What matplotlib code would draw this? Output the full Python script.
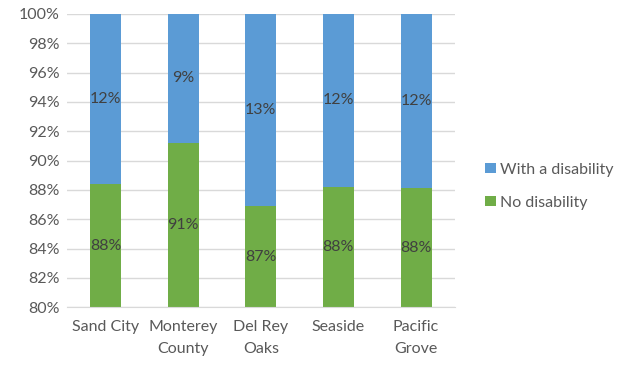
import matplotlib
matplotlib.use("Agg")
import matplotlib.pyplot as plt
import numpy as np

plt.rcParams['font.family'] = ['Lato', 'DejaVu Sans']

places = ["Sand City", "Monterey\nCounty", "Del Rey\nOaks", "Seaside", "Pacific\nGrove"]
no_dis = [88.4, 91.2, 86.9, 88.2, 88.15]
with_dis = [11.6, 8.8, 13.1, 11.8, 11.85]
no_lbl = ["88%", "91%", "87%", "88%", "88%"]
with_lbl = ["12%", "9%", "13%", "12%", "12%"]

blue = "#5B9BD5"
green = "#70AD47"
grey = "#595959"
fs = 11.5

fig = plt.figure(figsize=(6.18, 3.65), dpi=100)
ax = fig.add_axes([0.108, 0.158, 0.628, 0.804])

x = np.arange(len(places))
ymin, ymax = 80, 100
b1 = ax.bar(x, no_dis, width=0.4, color=green, zorder=2, label="No disability")
b2 = ax.bar(x, with_dis, bottom=no_dis, width=0.4, color=blue, zorder=2,
            label="With a disability")

# labels at middle of visible part
for i in range(len(places)):
    ax.text(x[i], (ymin + no_dis[i]) / 2, no_lbl[i], ha="center", va="center",
            color="#404040", fontsize=fs, zorder=3)
    ax.text(x[i], (no_dis[i] + min(ymax, no_dis[i] + with_dis[i])) / 2, with_lbl[i],
            ha="center", va="center", color="#404040", fontsize=fs, zorder=3)

ax.set_ylim(ymin, ymax)
ax.set_xlim(-0.5, len(places) - 0.5)
ax.set_yticks(np.arange(80, 101, 2))
ax.set_yticklabels([f"{v}%" for v in range(80, 101, 2)])
ax.set_xticks(x)
ax.set_xticklabels(places, linespacing=1.75)
ax.tick_params(axis="both", length=0, colors=grey, labelsize=fs)
ax.tick_params(axis="x", pad=9)
ax.tick_params(axis="y", pad=5)
ax.grid(axis="y", color="#D9D9D9", linewidth=1, zorder=0)
for s in ["top", "right", "left"]:
    ax.spines[s].set_visible(False)
ax.spines["bottom"].set_color("#D9D9D9")

leg = fig.legend(handles=[b2, b1], loc="center left", bbox_to_anchor=(0.785, 0.49),
                 frameon=False, fontsize=fs, handlelength=0.65, handleheight=0.65,
                 handletextpad=0.25, labelspacing=1.2, borderpad=0, borderaxespad=0)
for t in leg.get_texts():
    t.set_color(grey)

fig.savefig("out.png", dpi=100)
